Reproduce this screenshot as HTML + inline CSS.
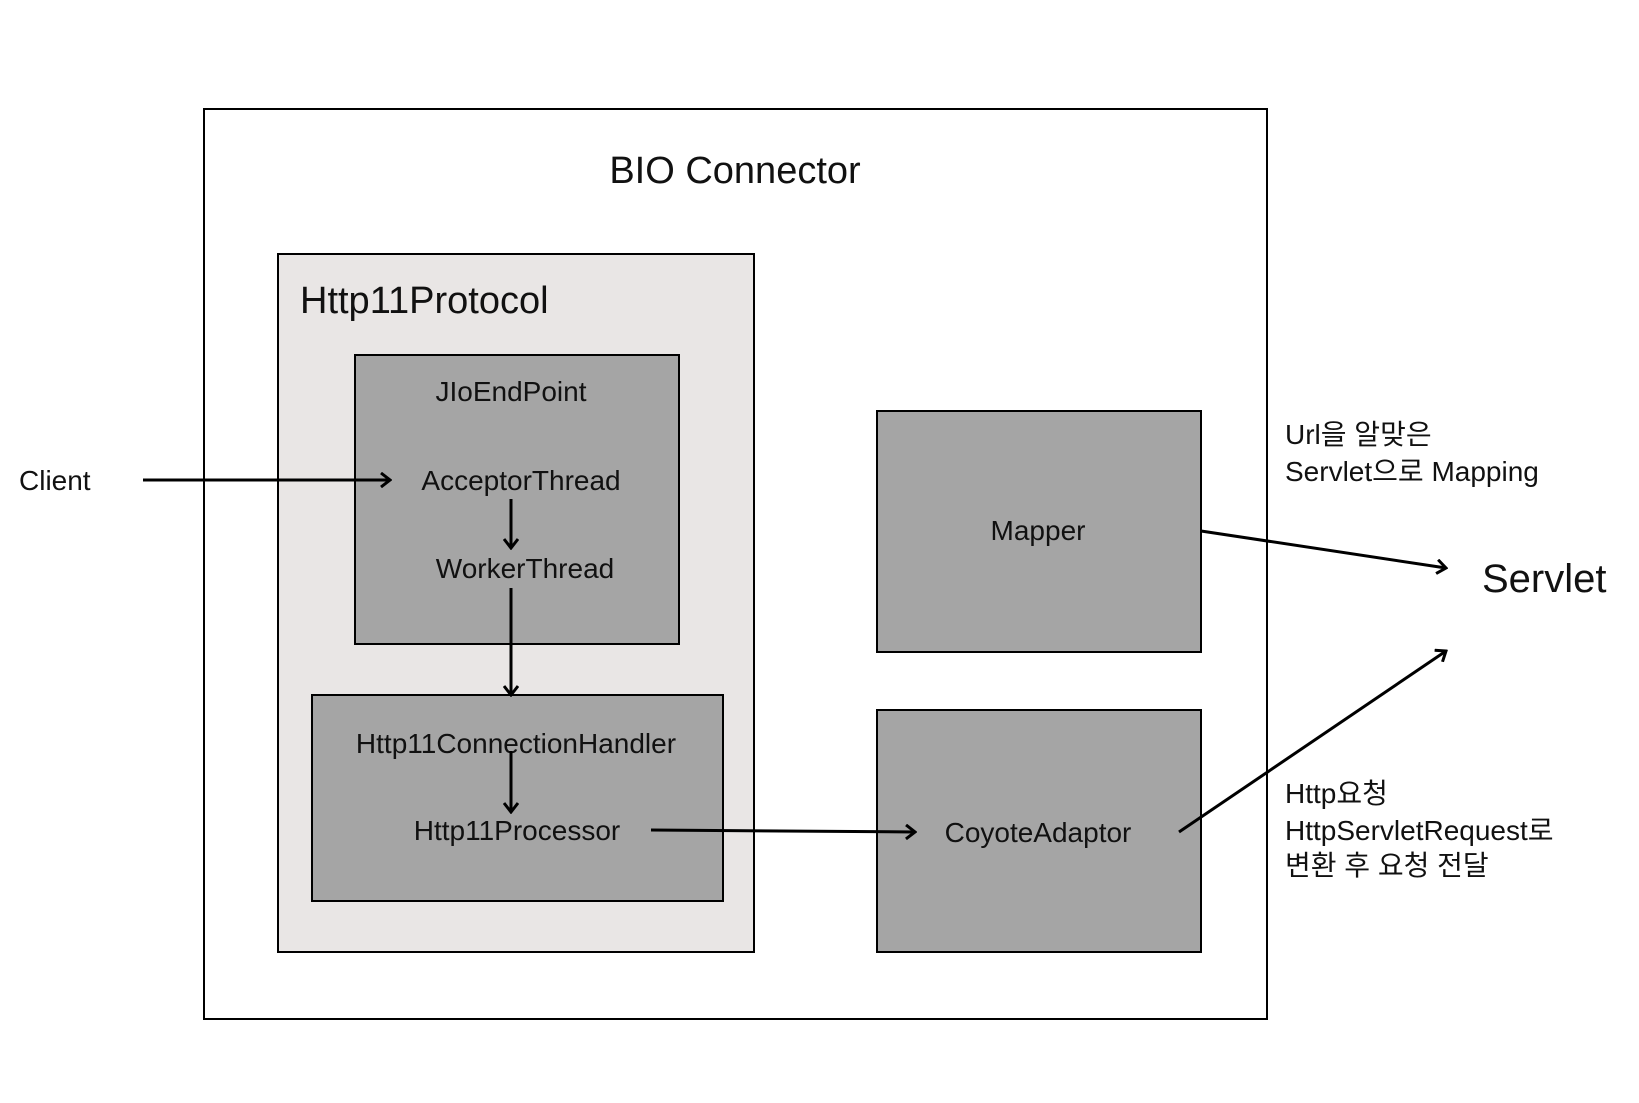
<!DOCTYPE html>
<html><head><meta charset="utf-8"><style>
html,body{margin:0;padding:0;background:#fff;}
svg{display:block;}
text{font-family:"Liberation Sans","Noto Sans CJK KR",sans-serif;fill:#111;}
</style></head><body>
<svg width="1639" height="1103" viewBox="0 0 1639 1103" xmlns="http://www.w3.org/2000/svg">
<defs>
<marker id="a" markerWidth="12" markerHeight="16" refX="10" refY="8" orient="auto" markerUnits="userSpaceOnUse">
<path d="M1,1 L10,8 L1,15" fill="none" stroke="#000" stroke-width="3"/>
</marker>
</defs>
<rect x="204" y="109" width="1063" height="910" fill="#fff" stroke="#000" stroke-width="2"/>
<text x="735" y="183" font-size="38" text-anchor="middle">BIO Connector</text>
<rect x="278" y="254" width="476" height="698" fill="#e9e6e5" stroke="#000" stroke-width="2"/>
<text x="300" y="313" font-size="38">Http11Protocol</text>
<rect x="355" y="355" width="324" height="289" fill="#a5a5a5" stroke="#000" stroke-width="2"/>
<text x="511" y="401" font-size="28" text-anchor="middle">JIoEndPoint</text>
<text x="521" y="490" font-size="28" text-anchor="middle">AcceptorThread</text>
<text x="525" y="578" font-size="28" text-anchor="middle">WorkerThread</text>
<rect x="312" y="695" width="411" height="206" fill="#a5a5a5" stroke="#000" stroke-width="2"/>
<text x="516" y="753" font-size="28" text-anchor="middle">Http11ConnectionHandler</text>
<text x="517" y="840" font-size="28" text-anchor="middle">Http11Processor</text>
<rect x="877" y="411" width="324" height="241" fill="#a5a5a5" stroke="#000" stroke-width="2"/>
<text x="1038" y="540" font-size="28" text-anchor="middle">Mapper</text>
<rect x="877" y="710" width="324" height="242" fill="#a5a5a5" stroke="#000" stroke-width="2"/>
<text x="1038" y="842" font-size="28" text-anchor="middle">CoyoteAdaptor</text>
<text x="19" y="490" font-size="28">Client</text>
<text x="1482" y="592" font-size="40">Servlet</text>
<text x="1285" y="444" font-size="28">Url을 알맞은</text>
<text x="1285" y="481" font-size="28">Servlet으로 Mapping</text>
<text x="1285" y="803" font-size="28">Http요청</text>
<text x="1285" y="840" font-size="28">HttpServletRequest로</text>
<text x="1285" y="875" font-size="28">변환 후 요청 전달</text>
<g stroke="#000" stroke-width="3" fill="none">
<line x1="143" y1="480" x2="390" y2="480" marker-end="url(#a)"/>
<line x1="511" y1="499" x2="511" y2="548" marker-end="url(#a)"/>
<line x1="511" y1="588" x2="511" y2="695" marker-end="url(#a)"/>
<line x1="511" y1="751" x2="511" y2="812" marker-end="url(#a)"/>
<line x1="651" y1="830" x2="915" y2="832" marker-end="url(#a)"/>
<line x1="1201" y1="531" x2="1446" y2="568" marker-end="url(#a)"/>
<line x1="1179" y1="832" x2="1446" y2="651" marker-end="url(#a)"/>
</g>
</svg>
</body></html>
